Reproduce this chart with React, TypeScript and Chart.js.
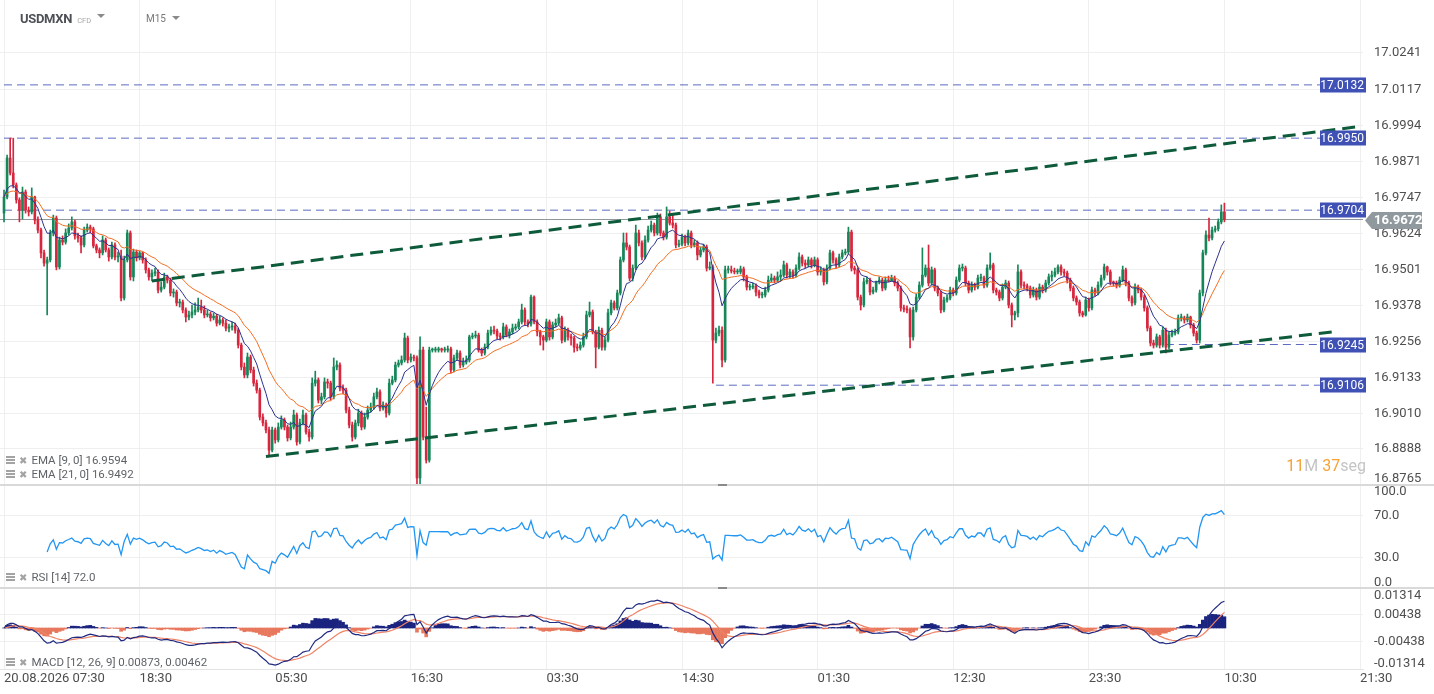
import React, { useEffect, useRef } from 'react';
import { Chart, registerables } from 'chart.js';

Chart.register(...registerables);

// ---------------- DATA ----------------
const firstOpen = 16.9694;

const closes = [
  16.9749, 16.9882, 16.9831, 16.9790, 16.9739, 16.9704, 16.9766, 16.9704, 16.9698, 16.9749,
  16.9670, 16.9636, 16.9558, 16.9523, 16.9534, 16.9626, 16.9677, 16.9510, 16.9602, 16.9595,
  16.9626, 16.9643, 16.9664, 16.9616, 16.9609, 16.9585, 16.9636, 16.9646, 16.9640, 16.9582,
  16.9568, 16.9558, 16.9602, 16.9568, 16.9544, 16.9585, 16.9544, 16.9547, 16.9404, 16.9534,
  16.9626, 16.9476, 16.9561, 16.9541, 16.9558, 16.9534, 16.9500, 16.9476, 16.9489, 16.9493,
  16.9431, 16.9441, 16.9476, 16.9465, 16.9421, 16.9424, 16.9387, 16.9390, 16.9363, 16.9339,
  16.9346, 16.9356, 16.9363, 16.9373, 16.9363, 16.9346, 16.9349, 16.9336, 16.9342, 16.9318,
  16.9329, 16.9318, 16.9301, 16.9305, 16.9308, 16.9294, 16.9243, 16.9168, 16.9141, 16.9202,
  16.9158, 16.9113, 16.9089, 16.8997, 16.8977, 16.8953, 16.8884, 16.8953, 16.8919, 16.8963,
  16.8987, 16.8963, 16.8926, 16.8963, 16.9004, 16.8912, 16.8977, 16.9004, 16.8946, 16.8929,
  16.9113, 16.9124, 16.9055, 16.9066, 16.9117, 16.9113, 16.9066, 16.9168, 16.9175, 16.9096,
  16.9089, 16.9021, 16.8970, 16.8929, 16.8977, 16.9011, 16.8963, 16.8997, 16.9021, 16.9031,
  16.9066, 16.9083, 16.9028, 16.9038, 16.9011, 16.9113, 16.9124, 16.9175, 16.9182, 16.9192,
  16.9267, 16.9192, 16.9202, 16.9199, 16.8789, 16.9226, 16.8929, 16.8850, 16.9226, 16.9226,
  16.9226, 16.9230, 16.9226, 16.9226, 16.9230, 16.9158, 16.9199, 16.9216, 16.9175, 16.9185,
  16.9192, 16.9271, 16.9274, 16.9277, 16.9226, 16.9216, 16.9236, 16.9284, 16.9294, 16.9291,
  16.9274, 16.9271, 16.9305, 16.9277, 16.9288, 16.9301, 16.9305, 16.9322, 16.9363, 16.9322,
  16.9315, 16.9407, 16.9322, 16.9288, 16.9271, 16.9260, 16.9322, 16.9271, 16.9312, 16.9318,
  16.9336, 16.9260, 16.9294, 16.9271, 16.9267, 16.9236, 16.9233, 16.9243, 16.9271, 16.9346,
  16.9356, 16.9288, 16.9236, 16.9294, 16.9236, 16.9260, 16.9353, 16.9387, 16.9370, 16.9421,
  16.9534, 16.9592, 16.9578, 16.9472, 16.9506, 16.9626, 16.9592, 16.9544, 16.9602, 16.9636,
  16.9653, 16.9626, 16.9681, 16.9626, 16.9612, 16.9681, 16.9660, 16.9653, 16.9585, 16.9588,
  16.9612, 16.9592, 16.9626, 16.9585, 16.9592, 16.9551, 16.9568, 16.9578, 16.9506, 16.9510,
  16.9260, 16.9284, 16.9294, 16.9192, 16.9500, 16.9500, 16.9496, 16.9493, 16.9493, 16.9503,
  16.9476, 16.9441, 16.9441, 16.9445, 16.9424, 16.9414, 16.9414, 16.9431, 16.9465, 16.9472,
  16.9465, 16.9476, 16.9482, 16.9517, 16.9482, 16.9493, 16.9482, 16.9506, 16.9544, 16.9523,
  16.9517, 16.9534, 16.9517, 16.9534, 16.9493, 16.9500, 16.9459, 16.9506, 16.9558, 16.9534,
  16.9517, 16.9544, 16.9558, 16.9561, 16.9629, 16.9506, 16.9500, 16.9407, 16.9380, 16.9459,
  16.9465, 16.9424, 16.9431, 16.9459, 16.9465, 16.9438, 16.9465, 16.9462, 16.9472, 16.9455,
  16.9438, 16.9370, 16.9366, 16.9363, 16.9271, 16.9363, 16.9407, 16.9448, 16.9482, 16.9506,
  16.9455, 16.9500, 16.9438, 16.9421, 16.9363, 16.9397, 16.9404, 16.9431, 16.9421, 16.9465,
  16.9506, 16.9506, 16.9455, 16.9431, 16.9448, 16.9441, 16.9472, 16.9472, 16.9448, 16.9506,
  16.9517, 16.9431, 16.9424, 16.9404, 16.9441, 16.9455, 16.9380, 16.9346, 16.9353, 16.9493,
  16.9448, 16.9445, 16.9438, 16.9414, 16.9431, 16.9407, 16.9441, 16.9431, 16.9455, 16.9476,
  16.9482, 16.9493, 16.9510, 16.9493, 16.9489, 16.9465, 16.9438, 16.9404, 16.9390, 16.9353,
  16.9346, 16.9397, 16.9370, 16.9431, 16.9421, 16.9448, 16.9472, 16.9510, 16.9493, 16.9459,
  16.9455, 16.9448, 16.9465, 16.9500, 16.9455, 16.9404, 16.9387, 16.9441, 16.9431, 16.9407,
  16.9370, 16.9301, 16.9250, 16.9243, 16.9271, 16.9243, 16.9294, 16.9236, 16.9277, 16.9284,
  16.9288, 16.9336, 16.9336, 16.9329, 16.9339, 16.9312, 16.9284, 16.9260, 16.9421, 16.9558,
  16.9619, 16.9609, 16.9636, 16.9640, 16.9664, 16.9698, 16.9672,
];

const highs = [
  16.9773, 16.9892, 16.9950, 16.9950, 16.9797, 16.9746, 16.9783, 16.9773, 16.9715, 16.9780,
  16.9752, 16.9681, 16.9643, 16.9568, 16.9544, 16.9636, 16.9687, 16.9684, 16.9612, 16.9616,
  16.9640, 16.9657, 16.9681, 16.9670, 16.9626, 16.9616, 16.9646, 16.9657, 16.9653, 16.9646,
  16.9588, 16.9575, 16.9616, 16.9609, 16.9575, 16.9595, 16.9592, 16.9561, 16.9568, 16.9547,
  16.9636, 16.9633, 16.9571, 16.9568, 16.9564, 16.9561, 16.9541, 16.9506, 16.9500, 16.9506,
  16.9500, 16.9459, 16.9489, 16.9482, 16.9472, 16.9435, 16.9431, 16.9400, 16.9397, 16.9370,
  16.9359, 16.9380, 16.9387, 16.9404, 16.9397, 16.9377, 16.9363, 16.9356, 16.9353, 16.9349,
  16.9342, 16.9336, 16.9329, 16.9315, 16.9322, 16.9318, 16.9301, 16.9250, 16.9182, 16.9216,
  16.9209, 16.9168, 16.9124, 16.9096, 16.9008, 16.8987, 16.8963, 16.8963, 16.8960, 16.8977,
  16.9001, 16.8994, 16.8970, 16.8980, 16.9021, 16.9011, 16.8990, 16.9021, 16.9011, 16.8956,
  16.9131, 16.9154, 16.9131, 16.9079, 16.9131, 16.9127, 16.9120, 16.9199, 16.9189, 16.9182,
  16.9107, 16.9096, 16.9031, 16.8980, 16.8987, 16.9024, 16.9018, 16.9011, 16.9035, 16.9045,
  16.9079, 16.9096, 16.9090, 16.9049, 16.9045, 16.9127, 16.9137, 16.9185, 16.9192, 16.9206,
  16.9284, 16.9274, 16.9213, 16.9209, 16.9206, 16.9271, 16.9236, 16.9031, 16.9236, 16.9233,
  16.9236, 16.9236, 16.9233, 16.9236, 16.9240, 16.9236, 16.9209, 16.9226, 16.9223, 16.9199,
  16.9206, 16.9277, 16.9284, 16.9291, 16.9284, 16.9233, 16.9247, 16.9294, 16.9305, 16.9308,
  16.9298, 16.9284, 16.9318, 16.9312, 16.9298, 16.9315, 16.9315, 16.9332, 16.9383, 16.9370,
  16.9329, 16.9414, 16.9411, 16.9329, 16.9294, 16.9277, 16.9332, 16.9329, 16.9322, 16.9332,
  16.9349, 16.9342, 16.9305, 16.9301, 16.9281, 16.9274, 16.9247, 16.9254, 16.9284, 16.9359,
  16.9390, 16.9363, 16.9294, 16.9305, 16.9301, 16.9271, 16.9366, 16.9397, 16.9394, 16.9431,
  16.9544, 16.9626, 16.9626, 16.9585, 16.9517, 16.9653, 16.9636, 16.9599, 16.9616, 16.9650,
  16.9667, 16.9660, 16.9694, 16.9691, 16.9633, 16.9715, 16.9701, 16.9687, 16.9660, 16.9602,
  16.9622, 16.9619, 16.9636, 16.9633, 16.9602, 16.9599, 16.9578, 16.9588, 16.9585, 16.9527,
  16.9517, 16.9301, 16.9308, 16.9305, 16.9513, 16.9513, 16.9513, 16.9506, 16.9503, 16.9513,
  16.9510, 16.9482, 16.9452, 16.9455, 16.9452, 16.9431, 16.9424, 16.9441, 16.9479, 16.9486,
  16.9479, 16.9493, 16.9500, 16.9530, 16.9523, 16.9503, 16.9500, 16.9517, 16.9558, 16.9551,
  16.9534, 16.9544, 16.9541, 16.9544, 16.9541, 16.9510, 16.9506, 16.9517, 16.9568, 16.9564,
  16.9541, 16.9554, 16.9568, 16.9571, 16.9646, 16.9636, 16.9513, 16.9506, 16.9414, 16.9472,
  16.9476, 16.9472, 16.9441, 16.9462, 16.9476, 16.9472, 16.9476, 16.9479, 16.9482, 16.9479,
  16.9462, 16.9445, 16.9380, 16.9377, 16.9370, 16.9373, 16.9418, 16.9459, 16.9575, 16.9517,
  16.9585, 16.9510, 16.9506, 16.9445, 16.9428, 16.9407, 16.9414, 16.9441, 16.9438, 16.9476,
  16.9517, 16.9520, 16.9513, 16.9462, 16.9459, 16.9455, 16.9482, 16.9486, 16.9479, 16.9517,
  16.9558, 16.9523, 16.9438, 16.9431, 16.9452, 16.9465, 16.9462, 16.9387, 16.9359, 16.9517,
  16.9500, 16.9459, 16.9452, 16.9445, 16.9441, 16.9438, 16.9452, 16.9448, 16.9465, 16.9486,
  16.9496, 16.9506, 16.9517, 16.9517, 16.9503, 16.9496, 16.9472, 16.9445, 16.9411, 16.9397,
  16.9359, 16.9407, 16.9404, 16.9441, 16.9438, 16.9459, 16.9482, 16.9520, 16.9513, 16.9500,
  16.9462, 16.9462, 16.9476, 16.9513, 16.9506, 16.9462, 16.9411, 16.9452, 16.9448, 16.9438,
  16.9414, 16.9377, 16.9308, 16.9260, 16.9281, 16.9277, 16.9305, 16.9301, 16.9288, 16.9294,
  16.9298, 16.9346, 16.9349, 16.9342, 16.9349, 16.9342, 16.9318, 16.9291, 16.9431, 16.9568,
  16.9633, 16.9677, 16.9646, 16.9650, 16.9674, 16.9722, 16.9728,
];

const lows = [
  16.9664, 16.9742, 16.9824, 16.9780, 16.9728, 16.9664, 16.9674, 16.9694, 16.9684, 16.9691,
  16.9657, 16.9626, 16.9541, 16.9513, 16.9346, 16.9527, 16.9616, 16.9500, 16.9503, 16.9585,
  16.9588, 16.9619, 16.9636, 16.9605, 16.9595, 16.9558, 16.9578, 16.9629, 16.9626, 16.9575,
  16.9558, 16.9541, 16.9551, 16.9561, 16.9530, 16.9537, 16.9534, 16.9527, 16.9394, 16.9397,
  16.9527, 16.9465, 16.9462, 16.9530, 16.9534, 16.9523, 16.9489, 16.9465, 16.9462, 16.9479,
  16.9421, 16.9424, 16.9435, 16.9455, 16.9411, 16.9407, 16.9377, 16.9373, 16.9353, 16.9322,
  16.9329, 16.9336, 16.9346, 16.9356, 16.9353, 16.9336, 16.9339, 16.9325, 16.9329, 16.9308,
  16.9312, 16.9308, 16.9291, 16.9288, 16.9294, 16.9284, 16.9233, 16.9158, 16.9131, 16.9131,
  16.9148, 16.9103, 16.9079, 16.8987, 16.8967, 16.8943, 16.8867, 16.8878, 16.8908, 16.8912,
  16.8956, 16.8953, 16.8915, 16.8919, 16.8956, 16.8901, 16.8905, 16.8970, 16.8939, 16.8915,
  16.8922, 16.9103, 16.9045, 16.9042, 16.9059, 16.9096, 16.9055, 16.9059, 16.9158, 16.9086,
  16.9076, 16.9011, 16.8960, 16.8915, 16.8922, 16.8967, 16.8953, 16.8956, 16.8990, 16.9014,
  16.9024, 16.9059, 16.9018, 16.9021, 16.8997, 16.9004, 16.9107, 16.9117, 16.9168, 16.9175,
  16.9185, 16.9182, 16.9185, 16.9189, 16.8741, 16.8748, 16.8919, 16.8840, 16.8843, 16.9219,
  16.9219, 16.9219, 16.9219, 16.9219, 16.9219, 16.9148, 16.9151, 16.9192, 16.9165, 16.9168,
  16.9178, 16.9185, 16.9264, 16.9267, 16.9219, 16.9206, 16.9209, 16.9230, 16.9277, 16.9281,
  16.9264, 16.9260, 16.9264, 16.9271, 16.9267, 16.9281, 16.9294, 16.9298, 16.9315, 16.9312,
  16.9305, 16.9308, 16.9315, 16.9274, 16.9243, 16.9226, 16.9254, 16.9260, 16.9264, 16.9305,
  16.9312, 16.9250, 16.9254, 16.9260, 16.9243, 16.9219, 16.9223, 16.9226, 16.9236, 16.9264,
  16.9339, 16.9281, 16.9165, 16.9230, 16.9226, 16.9226, 16.9254, 16.9346, 16.9363, 16.9363,
  16.9414, 16.9527, 16.9568, 16.9462, 16.9462, 16.9500, 16.9582, 16.9534, 16.9537, 16.9595,
  16.9629, 16.9616, 16.9619, 16.9616, 16.9602, 16.9605, 16.9653, 16.9643, 16.9575, 16.9578,
  16.9582, 16.9582, 16.9585, 16.9575, 16.9578, 16.9534, 16.9544, 16.9561, 16.9496, 16.9500,
  16.9113, 16.9250, 16.9274, 16.9168, 16.9185, 16.9489, 16.9489, 16.9486, 16.9486, 16.9486,
  16.9462, 16.9431, 16.9431, 16.9435, 16.9411, 16.9404, 16.9404, 16.9407, 16.9424, 16.9459,
  16.9455, 16.9459, 16.9462, 16.9476, 16.9472, 16.9472, 16.9472, 16.9476, 16.9500, 16.9513,
  16.9506, 16.9510, 16.9506, 16.9510, 16.9482, 16.9482, 16.9448, 16.9452, 16.9500, 16.9523,
  16.9506, 16.9510, 16.9537, 16.9551, 16.9554, 16.9496, 16.9486, 16.9397, 16.9363, 16.9373,
  16.9452, 16.9414, 16.9418, 16.9424, 16.9452, 16.9428, 16.9431, 16.9459, 16.9462, 16.9445,
  16.9428, 16.9359, 16.9356, 16.9353, 16.9233, 16.9260, 16.9356, 16.9400, 16.9441, 16.9476,
  16.9445, 16.9448, 16.9428, 16.9411, 16.9353, 16.9356, 16.9390, 16.9397, 16.9411, 16.9414,
  16.9459, 16.9496, 16.9445, 16.9421, 16.9424, 16.9431, 16.9435, 16.9462, 16.9438, 16.9441,
  16.9500, 16.9421, 16.9414, 16.9394, 16.9397, 16.9435, 16.9370, 16.9305, 16.9329, 16.9339,
  16.9438, 16.9435, 16.9428, 16.9404, 16.9407, 16.9397, 16.9400, 16.9421, 16.9424, 16.9448,
  16.9462, 16.9476, 16.9486, 16.9482, 16.9479, 16.9455, 16.9428, 16.9394, 16.9380, 16.9342,
  16.9339, 16.9342, 16.9359, 16.9363, 16.9411, 16.9414, 16.9441, 16.9465, 16.9482, 16.9448,
  16.9445, 16.9438, 16.9441, 16.9459, 16.9445, 16.9394, 16.9377, 16.9380, 16.9421, 16.9397,
  16.9359, 16.9291, 16.9240, 16.9233, 16.9236, 16.9233, 16.9236, 16.9216, 16.9230, 16.9271,
  16.9277, 16.9281, 16.9325, 16.9318, 16.9322, 16.9301, 16.9274, 16.9250, 16.9250, 16.9411,
  16.9551, 16.9599, 16.9602, 16.9629, 16.9633, 16.9657, 16.9664,
];

const xTickLabels = ['20.08.2026 07:30', '18:30', '05:30', '16:30', '03:30', '14:30', '01:30', '12:30', '23:30', '10:30', '21:30'];
const candlesPerXTick = 44; // 11 hours of 15-minute candles

const priceTickLabels = ['17.0241', '17.0117', '16.9994', '16.9871', '16.9747', '16.9624', '16.9501', '16.9378', '16.9256', '16.9133', '16.9010', '16.8888', '16.8765'];
const rsiTickLabels = ['100.0', '70.0', '30.0', '0.0'];
const macdTickLabels = ['0.01314', '0.00438', '-0.00438', '-0.01314'];

const levelValues = [17.0132, 16.995, 16.9704, 16.9245, 16.9106];
const levelLabels = ['17.0132', '16.9950', '16.9704', '16.9245', '16.9106'];
const levelStartIndex = [0, 0, 0, 377, 231];
const levelEndIndex = 427;

const currentPrice = 16.9672;
const currentPriceLabel = '16.9672';

const upperTrend = [{ x: 48, y: 16.9462 }, { x: 438.4, y: 16.9988 }];
const lowerTrend = [{ x: 85, y: 16.8862 }, { x: 431.9, y: 16.9289 }];

const legendEma9 = 'EMA [9, 0] 16.9594';
const legendEma21 = 'EMA [21, 0] 16.9492';
const legendRsi = 'RSI [14] 72.0';
const legendMacd = 'MACD [12, 26, 9] 0.00873, 0.00462';

// ---------------- INDICATORS (standard definitions) ----------------
function ema(values: number[], period: number): number[] {
  const k = 2 / (period + 1);
  const out: number[] = [];
  let prev = values[0];
  values.forEach((v, i) => {
    prev = i === 0 ? v : prev + k * (v - prev);
    out.push(prev);
  });
  return out;
}

function rsi(values: number[], period: number): (number | null)[] {
  const out: (number | null)[] = values.map(() => null);
  let g = 0;
  let l = 0;
  for (let i = 1; i < values.length; i++) {
    const d = values[i] - values[i - 1];
    const up = Math.max(d, 0);
    const dn = Math.max(-d, 0);
    if (i <= period) {
      g += up / period;
      l += dn / period;
      if (i < period) continue;
    } else {
      g = (g * (period - 1) + up) / period;
      l = (l * (period - 1) + dn) / period;
    }
    out[i] = l === 0 ? 100 : 100 - 100 / (1 + g / l);
  }
  return out;
}

const opens = closes.map((_, i) => (i === 0 ? firstOpen : closes[i - 1]));
const ema9 = ema(closes, 9);
const ema21 = ema(closes, 21);
const rsi14 = rsi(closes, 14);
const ema12 = ema(closes, 12);
const ema26 = ema(closes, 26);
const macdLine = closes.map((_, i) => ema12[i] - ema26[i]);
const signalLine = ema(macdLine, 9);
const histogram = macdLine.map((m, i) => m - signalLine[i]);

// ---------------- LAYOUT ----------------
const W = 1434;
const PLOT_RIGHT = 1363;
const Y_AXIS_W = W - PLOT_RIGHT;
const PAD = 10;
const X_MIN = -1.3;
const X_MAX = 440.97;
const MAIN = { top: 0, bottom: 485, min: 16.8765, max: 17.0422 };
const RSI = { top: 484, bottom: 589, min: 0, max: 100 };
const MACD = { top: 587, bottom: 669, min: -0.01314, max: 0.01314 };
const X_AXIS_H = 25;

const GREEN = '#17875a';
const RED = '#d7263d';
const GRID = '#efefef';
const FONT = "Roboto, 'Noto Sans', sans-serif";

Chart.defaults.font.family = FONT;

type TickDef = { value: number; label: string; grid: boolean };

function makeTicks(labels: string[], pane: any, insetTopPx: number, insetBottomPx: number): TickDef[] {
  const h = pane.bottom - pane.top;
  const perPx = (pane.max - pane.min) / h;
  return labels.map((label) => {
    const v = parseFloat(label);
    if (Math.abs(v - pane.max) < perPx) return { value: pane.max - insetTopPx * perPx, label, grid: false };
    if (Math.abs(v - pane.min) < perPx) return { value: pane.min + insetBottomPx * perPx, label, grid: false };
    return { value: v, label, grid: true };
  });
}

function xScale(showLabels: boolean) {
  return {
    type: 'linear',
    position: 'bottom',
    min: X_MIN,
    max: X_MAX,
    offset: false,
    afterBuildTicks: (s: any) => {
      s.ticks = xTickLabels.map((_, k) => ({ value: k * candlesPerXTick }));
    },
    afterFit: (s: any) => {
      s.height = showLabels ? X_AXIS_H : 0;
      s.paddingLeft = 0;
      s.paddingRight = 0;
      s.paddingTop = 0;
      s.paddingBottom = 0;
    },
    grid: { color: GRID, drawTicks: false, offset: false },
    border: { display: showLabels, color: '#e4e4e4' },
    ticks: {
      display: showLabels,
      align: 'start',
      autoSkip: false,
      maxRotation: 0,
      minRotation: 0,
      padding: 2,
      color: '#4d4d4d',
      font: { size: 13, family: FONT },
      callback: (_v: any, i: number) => xTickLabels[i],
    },
  };
}

function yScale(pane: any, defs: TickDef[]) {
  return {
    type: 'linear',
    position: 'right',
    min: pane.min,
    max: pane.max,
    afterBuildTicks: (s: any) => {
      s.ticks = defs.map((d) => ({ value: d.value }));
    },
    afterFit: (s: any) => {
      s.width = Y_AXIS_W;
      s.paddingTop = 0;
      s.paddingBottom = 0;
      s.paddingLeft = 0;
      s.paddingRight = 0;
    },
    grid: {
      drawTicks: false,
      color: (ctx: any) => (defs[ctx.index] && defs[ctx.index].grid ? GRID : 'rgba(0,0,0,0)'),
    },
    border: { display: false },
    ticks: {
      padding: 11,
      color: '#4f4f4f',
      font: { size: 13, family: FONT },
      callback: (_v: any, i: number) => (defs[i] ? defs[i].label : ''),
    },
  };
}

const baseOptions = (padBottom: number) => ({
  responsive: true,
  maintainAspectRatio: false,
  animation: false,
  events: [],
  layout: { padding: { top: PAD, bottom: padBottom, left: 0, right: 0 } },
  plugins: { legend: { display: false }, tooltip: { enabled: false } },
});

const levelTagsPlugin = {
  id: 'levelTags',
  afterDraw(chart: any) {
    const { ctx, chartArea, scales } = chart;
    const y = scales.y;
    ctx.save();
    ctx.textBaseline = 'middle';
    levelValues.forEach((v, k) => {
      const py = Math.round(y.getPixelForValue(v));
      const x1 = chartArea.right + 3;
      const x0 = x1 - 46;
      ctx.fillStyle = '#3f51b5';
      ctx.fillRect(x0, py - 7.5, 46, 15);
      ctx.fillStyle = '#ffffff';
      ctx.font = `12px ${FONT}`;
      ctx.textAlign = 'right';
      ctx.fillText(levelLabels[k], x1 - 2, py + 0.5);
    });
    const cy = Math.round(y.getPixelForValue(currentPrice)) + 0.5;
    const left = chartArea.right + 2;
    ctx.fillStyle = '#8f999e';
    ctx.beginPath();
    ctx.moveTo(left, cy);
    ctx.lineTo(left + 7, cy - 8.5);
    ctx.lineTo(left + 57, cy - 8.5);
    ctx.lineTo(left + 57, cy + 8.5);
    ctx.lineTo(left + 7, cy + 8.5);
    ctx.closePath();
    ctx.fill();
    ctx.fillStyle = '#ffffff';
    ctx.font = `bold 13px ${FONT}`;
    ctx.textAlign = 'left';
    ctx.fillText(currentPriceLabel, left + 9, cy + 0.5);
    ctx.restore();
  },
};

function mainConfig(): any {
  const colors = closes.map((c, i) => (c >= opens[i] ? GREEN : RED));
  const bodies = closes.map((c, i) => ({ x: i, y: [opens[i], c] }));
  const wicks = closes.map((c, i) => ({
    x: i,
    y: [Math.min(lows[i], opens[i], c), Math.max(highs[i], opens[i], c)],
  }));
  const defs = makeTicks(priceTickLabels, MAIN, 0, 6.5);
  const line = (data: any[], color: string, width: number, dash: number[], order: number) => ({
    type: 'line',
    data,
    borderColor: color,
    borderWidth: width,
    borderDash: dash,
    pointRadius: 0,
    fill: false,
    tension: 0,
    order,
  });
  return {
    type: 'line',
    data: {
      datasets: [
        line(upperTrend, '#0e5b3b', 3, [13, 7], 0),
        line(lowerTrend, '#0e5b3b', 3, [13, 7], 0),
        line(ema9.map((y, i) => ({ x: i, y })), '#2b318f', 1, [], 1),
        line(ema21.map((y, i) => ({ x: i, y })), '#f36d21', 1, [], 1),
        {
          type: 'bar',
          data: bodies,
          backgroundColor: colors,
          borderWidth: 0,
          barThickness: 2,
          minBarLength: 1,
          grouped: false,
          order: 2,
        },
        {
          type: 'bar',
          data: wicks,
          backgroundColor: colors,
          borderWidth: 0,
          barThickness: 1,
          grouped: false,
          order: 3,
        },
        ...levelValues.map((v, k) =>
          line(
            [{ x: levelStartIndex[k], y: v }, { x: levelEndIndex, y: v }],
            'rgba(63,81,181,0.85)',
            1,
            [8, 5],
            4
          )
        ),
        line([{ x: X_MIN, y: currentPrice }, { x: X_MAX, y: currentPrice }], '#8e979b', 1, [], 5),
      ],
    },
    options: {
      ...baseOptions(PAD),
      scales: { x: xScale(false), y: yScale(MAIN, defs) },
    },
    plugins: [levelTagsPlugin],
  };
}

function rsiConfig(): any {
  const defs = makeTicks(rsiTickLabels, RSI, 8, 6.5);
  return {
    type: 'line',
    data: {
      datasets: [
        {
          data: rsi14.map((y, i) => ({ x: i, y })),
          borderColor: '#2196f3',
          borderWidth: 1.3,
          pointRadius: 0,
          tension: 0,
          fill: false,
        },
      ],
    },
    options: {
      ...baseOptions(PAD),
      scales: { x: xScale(false), y: yScale(RSI, defs) },
    },
  };
}

function macdConfig(): any {
  const defs = makeTicks(macdTickLabels, MACD, 9, 5.5);
  return {
    type: 'line',
    data: {
      datasets: [
        {
          type: 'line',
          data: macdLine.map((y, i) => ({ x: i, y })),
          borderColor: '#1f2a80',
          borderWidth: 1.2,
          pointRadius: 0,
          tension: 0,
          order: 0,
        },
        {
          type: 'line',
          data: signalLine.map((y, i) => ({ x: i, y })),
          borderColor: '#ef8467',
          borderWidth: 1.2,
          pointRadius: 0,
          tension: 0,
          order: 0,
        },
        {
          type: 'bar',
          data: histogram.map((y, i) => ({ x: i, y })),
          backgroundColor: histogram.map((h) => (h >= 0 ? '#1a237e' : '#e8785d')),
          borderWidth: 0,
          barThickness: 3,
          grouped: false,
          order: 1,
        },
      ],
    },
    options: {
      ...baseOptions(0),
      scales: { x: xScale(true), y: yScale(MACD, defs) },
    },
  };
}

// ---------------- UI ----------------
function Caret({ left, top }: { left: number; top: number }) {
  return (
    <div
      style={{
        position: 'absolute',
        left,
        top,
        width: 0,
        height: 0,
        borderLeft: '4px solid transparent',
        borderRight: '4px solid transparent',
        borderTop: '4px solid #8a8a8a',
        zIndex: 6,
      }}
    />
  );
}

function ListIcon() {
  const bar = (top: number, w: number) => (
    <div style={{ position: 'absolute', left: 0, top, width: w, height: 2, background: '#a3a3a3' }} />
  );
  return (
    <div style={{ position: 'relative', width: 9, height: 9, marginRight: 4 }}>
      {bar(0, 9)}
      {bar(3, 9)}
      {bar(6, 9)}
    </div>
  );
}

function LegendRow({ top, text }: { top: number; text: string }) {
  return (
    <div
      style={{
        position: 'absolute',
        left: 6,
        top,
        height: 14,
        display: 'flex',
        alignItems: 'center',
        fontSize: 11.5,
        color: '#5f6368',
        fontFamily: FONT,
        whiteSpace: 'nowrap',
      }}
    >
      <ListIcon />
      <span style={{ color: '#a3a3a3', fontSize: 10, fontFamily: "'DejaVu Sans', sans-serif", marginRight: 4 }}>✖</span>
      <span>{text}</span>
    </div>
  );
}

export default function App() {
  const mainRef = useRef<HTMLCanvasElement | null>(null);
  const rsiRef = useRef<HTMLCanvasElement | null>(null);
  const macdRef = useRef<HTMLCanvasElement | null>(null);

  useEffect(() => {
    document.body.style.margin = '0';
    const charts = [
      new Chart(mainRef.current as HTMLCanvasElement, mainConfig()),
      new Chart(rsiRef.current as HTMLCanvasElement, rsiConfig()),
      new Chart(macdRef.current as HTMLCanvasElement, macdConfig()),
    ];
    return () => charts.forEach((c) => c.destroy());
  }, []);

  const paneBox = (top: number, height: number, z: number): React.CSSProperties => ({
    position: 'absolute',
    left: 0,
    top,
    width: W,
    height,
    zIndex: z,
  });

  return (
    <div
      style={{
        position: 'relative',
        width: W,
        height: 694,
        overflow: 'hidden',
        background: '#ffffff',
        fontFamily: FONT,
      }}
    >
      <div style={paneBox(MAIN.top - PAD, MAIN.bottom - MAIN.top + 2 * PAD, 1)}>
        <canvas ref={mainRef} style={{ display: 'block' }} />
      </div>
      <div style={paneBox(RSI.top - PAD, RSI.bottom - RSI.top + 2 * PAD, 2)}>
        <canvas ref={rsiRef} style={{ display: 'block' }} />
      </div>
      <div style={paneBox(MACD.top - PAD, 694 - MACD.top + PAD, 3)}>
        <canvas ref={macdRef} style={{ display: 'block' }} />
      </div>

      {/* pane separators */}
      <div style={{ position: 'absolute', left: 0, top: 484, width: W, height: 2, background: '#d9d9d9', zIndex: 4 }} />
      <div style={{ position: 'absolute', left: 0, top: 587, width: W, height: 2, background: '#d9d9d9', zIndex: 4 }} />
      <div style={{ position: 'absolute', left: 718, top: 484, width: 9, height: 2, background: '#8a8a8a', zIndex: 5 }} />
      <div style={{ position: 'absolute', left: 718, top: 587, width: 9, height: 2, background: '#8a8a8a', zIndex: 5 }} />

      {/* header */}
      <div style={{ position: 'absolute', left: 20, top: 11.5, display: 'flex', alignItems: 'baseline', zIndex: 6, lineHeight: 1 }}>
        <span style={{ fontSize: 13, fontWeight: 700, color: '#4d5156', letterSpacing: -0.3 }}>USDMXN</span>
        <span style={{ fontSize: 7.5, color: '#a8a8a8', marginLeft: 5 }}>CFD</span>
      </div>
      <Caret left={97} top={13.5} />
      <div style={{ position: 'absolute', left: 146, top: 14.3, fontSize: 10, lineHeight: 1, color: '#777777', zIndex: 6 }}>M15</div>
      <Caret left={172} top={16} />

      {/* legends */}
      <div style={{ position: 'absolute', inset: 0, zIndex: 6, pointerEvents: 'none' }}>
        <LegendRow top={453} text={legendEma9} />
        <LegendRow top={467} text={legendEma21} />
        <LegendRow top={570} text={legendRsi} />
        <LegendRow top={655} text={legendMacd} />
      </div>

      {/* countdown */}
      <div
        style={{
          position: 'absolute',
          right: W - 1366,
          top: 456,
          fontSize: 16,
          zIndex: 6,
          whiteSpace: 'nowrap',
        }}
      >
        <span style={{ color: '#f5a236' }}>11</span>
        <span style={{ color: '#c4c4c4' }}>M </span>
        <span style={{ color: '#f5a236' }}>37</span>
        <span style={{ color: '#c4c4c4' }}>seg</span>
      </div>
    </div>
  );
}
